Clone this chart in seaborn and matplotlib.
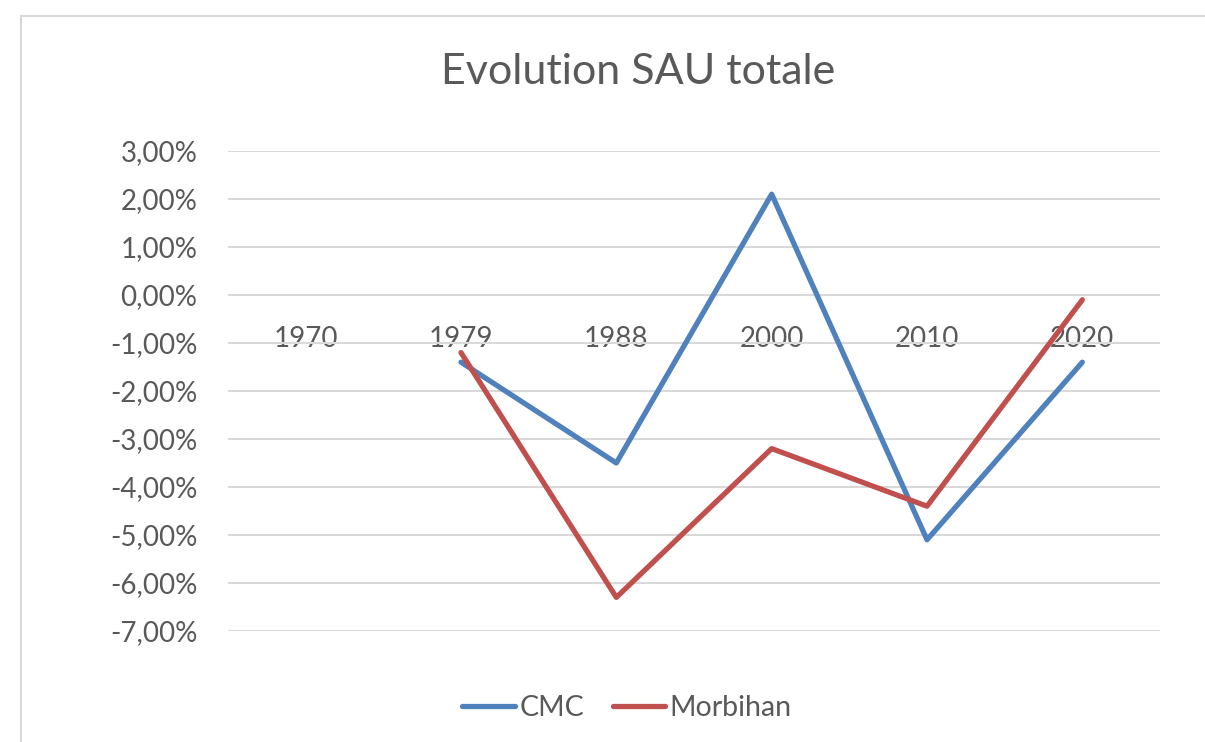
import numpy as np
import pandas as pd
import seaborn as sns
from matplotlib import pyplot as plt
from matplotlib.lines import Line2D
from matplotlib.ticker import FuncFormatter, MultipleLocator

# data (percent)
years = ["1970", "1979", "1988", "2000", "2010", "2020"]
cmc = [np.nan, -1.40, -3.50, 2.10, -5.10, -1.40]
morbihan = [np.nan, -1.20, -6.30, -3.20, -4.40, -0.10]
series_names = ["CMC", "Morbihan"]
colors = ["#4F81BD", "#C0504D"]

pos = list(range(len(years)))
df = pd.concat([
    pd.DataFrame({"pos": pos, "val": np.array(cmc) / 100, "serie": "CMC"}),
    pd.DataFrame({"pos": pos, "val": np.array(morbihan) / 100, "serie": "Morbihan"}),
], ignore_index=True)

sns.set_style("white")
plt.rcParams["font.family"] = ["Lato", "DejaVu Sans"]
txt = "#595959"
grid = "#D9D9D9"

fig = plt.figure(figsize=(12.05, 7.42), dpi=100)
ax = fig.add_axes([228 / 1205, 1 - 631 / 742, 932 / 1205, 480 / 742])

sns.lineplot(data=df, x="pos", y="val", hue="serie", palette=colors,
             linewidth=3.8, legend=False, ax=ax, solid_capstyle="round")

ax.set_xlim(-0.5, len(years) - 0.5)
ax.set_ylim(-0.07, 0.03)
ax.yaxis.set_major_locator(MultipleLocator(0.01))
ax.yaxis.set_major_formatter(FuncFormatter(lambda v, p: f"{v * 100:.2f}%".replace(".", ",")))
ax.grid(axis="y", color=grid, linewidth=1.5)
ax.set_axisbelow(True)
for s in ax.spines.values():
    s.set_visible(False)
ax.spines["bottom"].set_position(("data", 0))
ax.set_xticks(pos)
ax.set_xticklabels(years)
ax.set_xlabel("")
ax.set_ylabel("")
ax.tick_params(axis="x", length=0, pad=22, labelsize=20, labelcolor=txt)
ax.tick_params(axis="y", length=0, pad=22, labelsize=20, labelcolor=txt)

fig.text(638 / 1205, 1 - 72 / 742, "Evolution SAU totale", ha="center", va="center",
         fontsize=31, color=txt)

handles = [Line2D([], [], color=c, linewidth=3.8, solid_capstyle="round") for c in colors]
fig.legend(handles, series_names, loc="center", bbox_to_anchor=(627 / 1205, 1 - 708 / 742),
           ncol=2, frameon=False, fontsize=20.5, labelcolor=txt, handlelength=1.85,
           handletextpad=0.15, columnspacing=1.0)

# chart border (only top and left visible in the crop)
fig.add_artist(Line2D([21 / 1205, 21 / 1205], [-0.1, 1 - 16 / 742], transform=fig.transFigure,
                      color="#D9D9D9", linewidth=1.5))
fig.add_artist(Line2D([21 / 1205, 1.1], [1 - 16 / 742, 1 - 16 / 742], transform=fig.transFigure,
                      color="#D9D9D9", linewidth=1.5))

plt.savefig("out.png", dpi=100)
